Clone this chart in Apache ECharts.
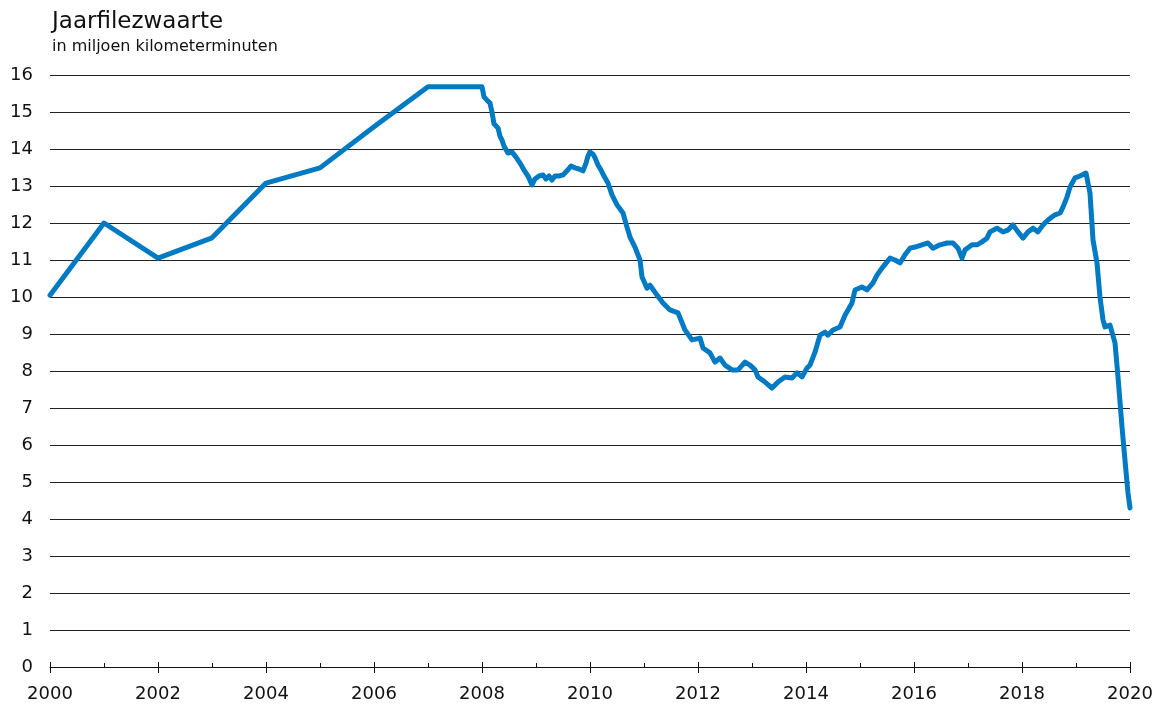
<!DOCTYPE html>
<html>
<head>
<meta charset="utf-8">
<title>Jaarfilezwaarte</title>
<script src="https://cdn.jsdelivr.net/npm/echarts@6/dist/echarts.min.js"></script>
<style>
  html, body { margin: 0; padding: 0; background: #fff; }
  #chart { width: 1166px; height: 705px; }
</style>
</head>
<body>
<div id="chart"></div>
<script>
// jaarlijkse waarden 2000-2007
const yearX = [2000, 2001, 2002, 2003, 2004, 2005, 2006, 2007];
const yearY = [10.05, 12.0, 11.05, 11.6, 13.08, 13.49, 14.6, 15.68];

const weekX = [
  2008.000, 2008.037, 2008.093, 2008.148, 2008.185, 2008.222, 2008.296, 2008.333, 2008.370, 2008.407,
  2008.481, 2008.556, 2008.630, 2008.704, 2008.778, 2008.852, 2008.926, 2008.981, 2009.056, 2009.130,
  2009.185, 2009.241, 2009.296, 2009.352, 2009.426, 2009.500, 2009.574, 2009.648, 2009.722, 2009.796,
  2009.870, 2009.926, 2009.963, 2010.000, 2010.056, 2010.093, 2010.148, 2010.204, 2010.259, 2010.333,
  2010.407, 2010.500, 2010.611, 2010.685, 2010.741, 2010.833, 2010.926, 2010.963, 2011.056, 2011.111,
  2011.241, 2011.352, 2011.481, 2011.630, 2011.759, 2011.889, 2012.037, 2012.093, 2012.222, 2012.315,
  2012.407, 2012.500, 2012.630, 2012.741, 2012.870, 2012.963, 2013.056, 2013.111, 2013.241, 2013.370,
  2013.481, 2013.611, 2013.741, 2013.833, 2013.926, 2014.019, 2014.074, 2014.167, 2014.259, 2014.352,
  2014.407, 2014.500, 2014.630, 2014.722, 2014.852, 2014.907, 2015.037, 2015.130, 2015.241, 2015.315,
  2015.407, 2015.556, 2015.648, 2015.741, 2015.833, 2015.926, 2016.019, 2016.148, 2016.259, 2016.352,
  2016.481, 2016.611, 2016.722, 2016.815, 2016.889, 2016.944, 2017.074, 2017.167, 2017.259, 2017.352,
  2017.407, 2017.537, 2017.648, 2017.741, 2017.833, 2017.926, 2018.019, 2018.111, 2018.204, 2018.296,
  2018.389, 2018.481, 2018.611, 2018.704, 2018.759, 2018.833, 2018.889, 2018.981, 2019.074, 2019.185,
  2019.259, 2019.315, 2019.389, 2019.444, 2019.500, 2019.537, 2019.630, 2019.722, 2019.778, 2019.852,
  2019.907, 2019.963, 2020.000
];
const weekY = [
  15.68, 15.41, 15.32, 15.24, 15.00, 14.68, 14.57, 14.35, 14.24, 14.08,
  13.89, 13.92, 13.78, 13.62, 13.43, 13.27, 13.03, 13.19, 13.27, 13.30,
  13.19, 13.27, 13.16, 13.27, 13.27, 13.30, 13.41, 13.54, 13.49, 13.46,
  13.41, 13.62, 13.81, 13.92, 13.86, 13.76, 13.57, 13.43, 13.27, 13.08,
  12.76, 12.49, 12.27, 11.89, 11.62, 11.35, 11.00, 10.54, 10.24, 10.32,
  10.05, 9.84, 9.65, 9.57, 9.11, 8.84, 8.89, 8.62, 8.49, 8.24,
  8.35, 8.16, 8.03, 8.03, 8.24, 8.16, 8.03, 7.84, 7.70, 7.54,
  7.70, 7.84, 7.81, 7.95, 7.84, 8.08, 8.16, 8.51, 8.97, 9.05,
  8.97, 9.11, 9.19, 9.51, 9.84, 10.19, 10.27, 10.19, 10.38, 10.59,
  10.78, 11.05, 11.00, 10.92, 11.14, 11.32, 11.35, 11.41, 11.46, 11.32,
  11.41, 11.46, 11.46, 11.32, 11.05, 11.27, 11.41, 11.41, 11.49, 11.59,
  11.76, 11.86, 11.76, 11.81, 11.95, 11.76, 11.59, 11.76, 11.86, 11.76,
  11.95, 12.08, 12.22, 12.27, 12.43, 12.70, 12.97, 13.22, 13.27, 13.35,
  12.81, 11.54, 10.92, 10.00, 9.38, 9.19, 9.24, 8.76, 7.84, 6.49,
  5.59, 4.70, 4.30
];

const yTicks = [0, 16, 1]; // min, max, interval
const xRange = [2000, 2020];

const lineData = [];
yearX.forEach((x, i) => lineData.push([x, yearY[i]]));
weekX.forEach((x, i) => lineData.push([x, weekY[i]]));

const font = 'DejaVu Sans';
const chart = echarts.init(document.getElementById('chart'));
chart.setOption({
  animation: false,
  title: {
    text: 'Jaarfilezwaarte',
    subtext: 'in miljoen kilometerminuten',
    left: 47,
    top: 4,
    itemGap: 3,
    textStyle: { fontFamily: font, fontSize: 23, fontWeight: 'normal', color: '#111', lineHeight: 26 },
    subtextStyle: { fontFamily: font, fontSize: 16, color: '#111', lineHeight: 18 }
  },
  grid: { left: 50, right: 36, top: 75, bottom: 38, containLabel: false },
  xAxis: [
    {
      type: 'value',
      min: xRange[0], max: xRange[1], interval: 2,
      axisLine: { lineStyle: { color: '#111', width: 1 } },
      axisTick: { show: true, inside: false, length: 6, lineStyle: { color: '#111' } },
      splitLine: { show: false },
      axisLabel: { fontFamily: font, fontSize: 18, color: '#111', margin: 18, formatter: v => String(v) }
    },
    {
      type: 'value',
      position: 'bottom',
      min: xRange[0], max: xRange[1], interval: 2,
      axisLine: { show: false },
      axisTick: { show: true, inside: true, length: 5, lineStyle: { color: '#111' } },
      minorTick: { show: true, splitNumber: 2, length: 4, lineStyle: { color: '#111' } },
      splitLine: { show: false },
      axisLabel: { show: false }
    }
  ],
  yAxis: {
    type: 'value',
    min: yTicks[0], max: yTicks[1], interval: yTicks[2],
    axisLine: { show: false },
    axisTick: { show: false },
    splitLine: { lineStyle: { color: '#222', width: 1 } },
    axisLabel: { fontFamily: font, fontSize: 18, color: '#111', margin: 17 }
  },
  series: [
    {
      type: 'line',
      xAxisIndex: 0,
      data: lineData,
      showSymbol: false,
      lineStyle: { color: '#007AC3', width: 5, join: 'round', cap: 'round' },
      z: 3
    }
  ]
});
</script>
</body>
</html>
